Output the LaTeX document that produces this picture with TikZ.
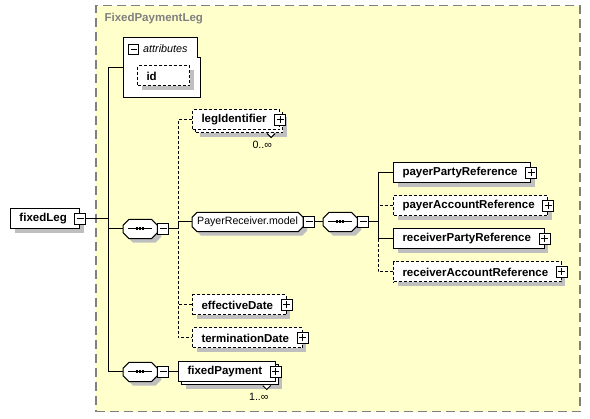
\documentclass[tikz,border=0pt]{standalone}
\usepackage{fontspec}
\setmainfont{Liberation Sans}
\definecolor{schemabg}{RGB}{255,255,204}
\definecolor{schemagray}{RGB}{128,128,128}
% octagon round a node: name, chamfer, offset, fill, edge
\newcommand\octframe[5]{\filldraw[fill=#4,draw=#5,line width=1pt]
  ([xshift=#3+#2,yshift=-#3]#1.north west) -- ([xshift=#3-#2,yshift=-#3]#1.north east)
  -- ([xshift=#3,yshift=-#3-#2]#1.north east) -- ([xshift=#3,yshift=-#3+#2]#1.south east)
  -- ([xshift=#3-#2,yshift=-#3]#1.south east) -- ([xshift=#3+#2,yshift=-#3]#1.south west)
  -- ([xshift=#3,yshift=-#3+#2]#1.south west) -- ([xshift=#3,yshift=-#3-#2]#1.north west) -- cycle;}
% sequence mark inside a compositor
\newcommand\seqmark[1]{\draw[line width=1pt] ([xshift=5pt]#1.west) -- ([xshift=-5pt]#1.east);
  \fill ([xshift=-4.2pt,yshift=-1.5pt]#1.center) rectangle ([xshift=-1.8pt,yshift=1.5pt]#1.center);
  \fill ([xshift=-1.2pt,yshift=-1.5pt]#1.center) rectangle ([xshift=1.2pt,yshift=1.5pt]#1.center);
  \fill ([xshift=1.8pt,yshift=-1.5pt]#1.center) rectangle ([xshift=4.2pt,yshift=1.5pt]#1.center);}

\begin{document}
\begin{tikzpicture}[x=1pt,y=-1pt,
  every node/.style={font=\fontsize{10.6}{12}\selectfont},
  elem/.style={rectangle,draw,fill=white,line width=1pt,anchor=west,minimum height=20pt,
    inner xsep=0pt,inner ysep=0pt,font=\fontsize{11.5}{12}\selectfont\bfseries,
    execute at begin node=\hspace*{9pt},execute at end node=\hspace*{13pt}},
  optelem/.style={elem,dash pattern=on 3pt off 2pt},
  shadebox/.style={draw=none,fill=black!25},
  expander/.style={rectangle,draw,fill=white,line width=1pt,minimum size=11pt,inner sep=0pt},
  plusbox/.style={expander,path picture={
    \draw[line width=1pt] ([xshift=2pt]path picture bounding box.west) -- ([xshift=-2pt]path picture bounding box.east);
    \draw[line width=1pt] ([yshift=-2pt]path picture bounding box.north) -- ([yshift=2pt]path picture bounding box.south);}},
  minusbox/.style={expander,path picture={
    \draw[line width=1pt] ([xshift=2pt]path picture bounding box.west) -- ([xshift=-2pt]path picture bounding box.east);}},
  seqbox/.style={rectangle,minimum width=34pt,minimum height=19pt,inner sep=0pt,anchor=west},
  grpref/.style={rectangle,minimum height=19pt,inner xsep=5pt,inner ysep=0pt,anchor=west},
  chevron/.style={draw,fill=white,line width=1pt},
  conn/.style={line width=1pt},
  optconn/.style={line width=1pt,dash pattern=on 3pt off 2pt}]
  \useasboundingbox (0,0) rectangle (590,419);

  % complex type region
  \node[draw=schemagray,fill=schemabg,line width=1.5pt,dash pattern=on 9pt off 5pt,
    minimum width=484pt,minimum height=406pt,inner sep=0pt,anchor=north west] (region) at (95,5) {};
  \node[anchor=west,text=schemagray,font=\fontsize{11.5}{12}\selectfont\bfseries] (regionlabel) at (101,19) {FixedPaymentLeg};

  % attributes
  \node[minimum width=77pt,minimum height=59pt,inner sep=0pt,anchor=north west] (attrs) at (123,38) {};
  \draw[fill=white,line width=1pt] (attrs.north west) -- ([xshift=-3pt]attrs.north east) -- ++(0,20)
    -- ++(3,0) -- (attrs.south east) -- (attrs.south west) -- cycle;
  \node[minusbox,minimum size=10pt] (attrsexp) at (133.5,49.5) {};
  \node[anchor=west,font=\fontsize{10.8}{12}\selectfont\itshape,inner sep=0pt] (attrslabel) at (143,49) {attributes};
  \node[optelem,shadebox,execute at end node=\hspace*{20pt}] (idshade) at (141,80) {\phantom{id}};
  \node[optelem,execute at end node=\hspace*{20pt}] (id) at (137,76) {id};

  % root element
  \node[elem,shadebox] (fixedlegshade) at (14,223) {\phantom{fixedLeg}};
  \node[elem] (fixedleg) at (10,219) {fixedLeg};
  \node[minusbox] (fixedlegexp) at (fixedleg.east) {};

  % first sequence
  \node[seqbox] (seqa) at (123,229) {};
  \octframe{seqa}{6pt}{4pt}{black!25}{none}
  \octframe{seqa}{6pt}{0pt}{white}{black}
  \seqmark{seqa}
  \node[minusbox,anchor=west] (seqaexp) at (seqa.east) {};

  \node[optelem,shadebox] (legidshade) at (199,127) {\phantom{legIdentifier}};
  \node[optelem] (legidback) at (195,123) {\phantom{legIdentifier}};
  \draw[chevron] ([xshift=-16pt]legidback.south east) -- ++(4,4) -- ++(4,-4);
  \node[optelem] (legid) at (192,120) {legIdentifier};
  \node[plusbox] (legidexp) at (legid.east) {};
  \node (legidocc) at ([shift={(-21,11)}]legidback.south east) {0..∞};

  \node[grpref] (payrecvshape) at (192,222) {\phantom{PayerReceiver.model}};
  \octframe{payrecvshape}{5pt}{4pt}{black!25}{none}
  \octframe{payrecvshape}{5pt}{0pt}{white}{black}
  \node[grpref] (payrecv) at (192,222) {PayerReceiver.model};
  \node[minusbox,anchor=west] (payrecvexp) at (payrecv.east) {};

  \node[optelem,shadebox] (effdateshade) at (196,309) {\phantom{effectiveDate}};
  \node[optelem] (effdate) at (192,305) {effectiveDate};
  \node[plusbox] (effdateexp) at (effdate.east) {};
  \node[optelem,shadebox] (termdateshade) at (196,342) {\phantom{terminationDate}};
  \node[optelem] (termdate) at (192,338) {terminationDate};
  \node[plusbox] (termdateexp) at (termdate.east) {};

  % second sequence
  \node[seqbox] (seqb) at (123,372) {};
  \octframe{seqb}{6pt}{4pt}{black!25}{none}
  \octframe{seqb}{6pt}{0pt}{white}{black}
  \seqmark{seqb}
  \node[minusbox,anchor=west] (seqbexp) at (seqb.east) {};
  \node[elem,shadebox] (fixpayshade) at (185,379) {\phantom{fixedPayment}};
  \node[elem] (fixpayback) at (181,375) {\phantom{fixedPayment}};
  \draw[chevron] ([xshift=-16pt]fixpayback.south east) -- ++(4,4) -- ++(4,-4);
  \node[elem] (fixpay) at (178,372) {fixedPayment};
  \node[plusbox] (fixpayexp) at (fixpay.east) {};
  \node (fixpayocc) at ([shift={(-20,11)}]fixpayback.south east) {1..∞};

  % party references
  \node[seqbox] (seqc) at (323,222) {};
  \octframe{seqc}{6pt}{4pt}{black!25}{none}
  \octframe{seqc}{6pt}{0pt}{white}{black}
  \seqmark{seqc}
  \node[minusbox,anchor=west] (seqcexp) at (seqc.east) {};
  \node[elem,shadebox] (paypartyshade) at (397,177) {\phantom{payerPartyReference}};
  \node[elem] (payparty) at (393,173) {payerPartyReference};
  \node[plusbox] (paypartyexp) at (payparty.east) {};
  \node[optelem,shadebox] (payacctshade) at (397,210) {\phantom{payerAccountReference}};
  \node[optelem] (payacct) at (393,206) {payerAccountReference};
  \node[plusbox] (payacctexp) at (payacct.east) {};
  \node[elem,shadebox] (recvpartyshade) at (397,243) {\phantom{receiverPartyReference}};
  \node[elem] (recvparty) at (393,239) {receiverPartyReference};
  \node[plusbox] (recvpartyexp) at (recvparty.east) {};
  \node[optelem,shadebox] (recvacctshade) at (397,276) {\phantom{receiverAccountReference}};
  \node[optelem] (recvacct) at (393,272) {receiverAccountReference};
  \node[plusbox] (recvacctexp) at (recvacct.east) {};

  % connectors
  \coordinate (forkmain) at (108,0);
  \coordinate (forkseq) at (178,0);
  \coordinate (forkref) at (378,0);
  \draw[conn] (fixedlegexp.east) -- (forkmain |- fixedlegexp.east);
  \draw[conn] (attrs.west) -| (forkmain |- seqb.west) -- (seqb.west);
  \draw[conn] (seqa.west) -- (forkmain |- seqa.west);
  \draw[conn] (seqaexp.east) -- (forkseq |- seqaexp.east) -- (forkseq |- payrecv.west) -- (payrecv.west);
  \draw[optconn] (legid.west) -| (forkseq |- termdate.west) -- (termdate.west);
  \draw[optconn] (effdate.west) -- (forkseq |- effdate.west);
  \draw[conn] (seqbexp.east) -- (fixpay.west);
  \draw[conn] (payrecvexp.east) -- (seqc.west);
  \draw[conn] (seqcexp.east) -- (forkref |- seqcexp.east);
  \draw[conn] (payparty.west) -| (forkref |- recvparty.west) -- (recvparty.west);
  \draw[optconn] (payacct.west) -- (forkref |- payacct.west);
  \draw[optconn] (recvacct.west) -| (forkref |- recvparty.west);
\end{tikzpicture}
\end{document}
